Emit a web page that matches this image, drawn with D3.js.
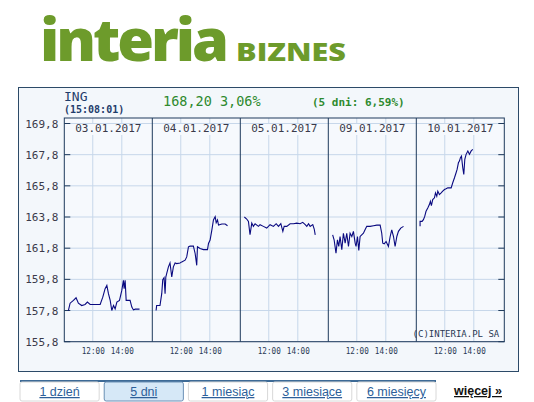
<!DOCTYPE html>
<html><head><meta charset="utf-8">
<script src="https://cdn.jsdelivr.net/npm/d3@7"></script>
<style>body{margin:0;background:#fff}svg{display:block}</style>
</head><body>
<script>
const days = ["03.01.2017","04.01.2017","05.01.2017","09.01.2017","10.01.2017"];
const yTicks = [155.8,157.8,159.8,161.8,163.8,165.8,167.8,169.8];
const hourTicks = [12,14];
const tabs = ["1 dzień","5 dni","1 miesiąc","3 miesiące","6 miesięcy"];
const day1 = [[10.32,157.8],[10.44,158.27],[10.67,158.45],[10.85,158.62],[11.01,158.27],[11.24,158.12],[11.47,158.19],[11.63,158.34],[11.82,158.19],[12.51,158.19],[12.69,158.66],[12.85,159.2],[12.97,159.41],[13.08,158.88],[13.2,158.45],[13.31,157.8],[13.43,158.12],[13.54,157.91],[13.66,158.34],[13.84,158.45],[14.0,159.09],[14.11,159.74],[14.16,159.2],[14.23,159.74],[14.3,158.45],[14.57,158.45],[14.69,158.02],[14.8,157.84],[14.92,157.89],[15.22,157.89]];
const day2 = [[10.3,157.8],[10.34,158.12],[10.57,158.12],[10.69,158.88],[10.76,159.78],[10.85,159.91],[10.92,158.88],[10.97,159.95],[11.03,160.17],[11.15,160.6],[11.26,160.85],[11.38,159.95],[11.49,160.6],[11.61,160.85],[11.72,160.81],[11.95,160.85],[12.07,160.92],[12.3,161.03],[12.41,161.24],[12.53,161.89],[12.64,161.93],[12.87,161.93],[12.99,161.46],[13.1,160.7],[13.15,161.89],[13.33,161.78],[13.56,161.71],[13.84,161.71],[13.91,162.1],[14.02,162.32],[14.14,162.96],[14.25,163.61],[14.37,163.82],[14.44,163.43],[14.53,163.61],[14.6,163.28],[14.83,163.35],[15.06,163.35],[15.22,163.24]];
const day3 = [[10.32,163.8],[10.48,163.67],[10.6,163.52],[10.71,162.66],[10.83,163.41],[10.94,163.2],[11.06,163.37],[11.29,163.2],[11.4,163.31],[11.63,163.2],[11.86,163.09],[12.09,163.31],[12.32,163.2],[12.51,163.37],[12.67,163.2],[12.83,163.37],[12.97,162.88],[13.06,163.2],[13.24,163.2],[13.47,163.37],[13.7,163.37],[13.93,163.41],[14.16,163.37],[14.34,163.46],[14.51,163.31],[14.62,163.2],[14.74,163.37],[14.85,163.2],[15.03,163.31],[15.13,163.03],[15.2,162.66]];
const day4 = [[10.34,162.66],[10.44,162.34],[10.57,161.48],[10.67,162.34],[10.76,161.91],[10.85,162.55],[10.97,161.7],[11.08,162.76],[11.2,162.12],[11.31,162.76],[11.43,161.91],[11.54,162.76],[11.66,162.55],[11.77,162.88],[11.89,162.12],[11.95,161.91],[12.05,162.55],[12.14,161.65],[12.23,162.55],[12.34,162.66],[12.46,162.76],[12.57,162.98],[12.69,163.2],[12.92,163.2],[13.15,163.24],[13.38,163.28],[13.61,163.28],[13.72,162.76],[13.79,162.12],[13.89,162.08],[14.02,162.23],[14.18,161.91],[14.3,162.55],[14.41,162.98],[14.53,162.55],[14.64,161.91],[14.76,162.55],[14.87,162.88],[15.03,163.09],[15.22,163.2]];
const day5 = [[10.3,163.2],[10.3,163.52],[10.44,163.52],[10.53,163.63],[10.62,163.84],[10.71,164.17],[10.83,164.38],[10.94,164.6],[11.01,164.81],[11.08,164.53],[11.17,164.92],[11.29,165.03],[11.36,165.35],[11.45,165.13],[11.52,165.46],[11.63,165.24],[11.75,165.35],[11.86,165.46],[11.98,165.56],[12.09,165.61],[12.21,165.67],[12.32,165.67],[12.44,165.67],[12.55,166.0],[12.67,166.32],[12.78,166.64],[12.85,166.85],[12.94,167.28],[13.01,167.39],[13.08,167.61],[13.15,167.71],[13.24,166.96],[13.31,166.53],[13.38,167.5],[13.47,167.82],[13.59,168.04],[13.7,167.82],[13.82,168.04],[13.93,168.14]];
const series = [day1,day2,day3,day4,day5];

const W=534,H=402;
const svg=d3.select("body").append("svg").attr("width",W).attr("height",H);
const mono="'DejaVu Sans Mono', 'Liberation Mono', monospace";

// logo
svg.append("text").attr("x",40).attr("y",61).attr("font-family","'Open Sans',Lato,sans-serif")
  .attr("font-weight",800).attr("font-size",58).attr("fill","#6d9b2b").attr("letter-spacing",-3)
  .attr("textLength",186).attr("lengthAdjust","spacingAndGlyphs").text("interia");
svg.append("text").attr("x",236).attr("y",61).attr("font-family","'Open Sans',Lato,sans-serif")
  .attr("font-weight",800).attr("font-size",25).attr("fill","#6d9b2b")
  .attr("textLength",110).attr("lengthAdjust","spacingAndGlyphs").text("BIZNES");

// box
svg.append("rect").attr("x",18.5).attr("y",87.5).attr("width",500).attr("height",284)
  .attr("fill","#f3f7fb").attr("stroke","#2c4a68");

const x0=64.3, pw=88, yTop=123.5, yBot=341.7;
const y=d3.scaleLinear().domain([155.8,169.8]).range([yBot,yTop]);
const xDay=d3.scaleBand().domain(days).range([x0,x0+pw*5]);
const plotTop=118;

svg.append("rect").attr("x",x0).attr("y",plotTop).attr("width",pw*5).attr("height",yBot-plotTop).attr("fill","#f6f9fd");

svg.append("g").selectAll("line").data(yTicks).join("line")
  .attr("x1",x0).attr("x2",x0+pw*5).attr("y1",d=>y(d)).attr("y2",d=>y(d))
  .attr("stroke","#c7d7ea").attr("stroke-width",1);
const yAxis=d3.axisLeft(y).tickValues(yTicks).tickSize(0).tickPadding(8).tickFormat(d=>d.toFixed(1).replace(".",","));
const ga=svg.append("g").attr("transform",`translate(${x0},0)`).call(yAxis);
ga.select(".domain").remove();
ga.selectAll("text").attr("font-family",mono).attr("font-size",11).attr("fill","#3a3a4a").attr("x",-6);
svg.append("g").selectAll("line").data(yTicks).join("line")
  .attr("x1",x0).attr("x2",x0+6).attr("y1",d=>y(d)).attr("y2",d=>y(d)).attr("stroke","#1f3a5c");
svg.append("g").selectAll("line").data(yTicks).join("line")
  .attr("x1",x0+pw*5-6).attr("x2",x0+pw*5).attr("y1",d=>y(d)).attr("y2",d=>y(d)).attr("stroke","#1f3a5c");

const line=d3.line();
days.forEach((d,i)=>{
  const px=xDay(d);
  const xt=d3.scaleLinear().domain([10.04,16.1]).range([px,px+pw]);
  const g=svg.append("g");
  g.selectAll("line.v").data(hourTicks).join("line")
    .attr("x1",h=>xt(h)).attr("x2",h=>xt(h)).attr("y1",plotTop).attr("y2",yBot)
    .attr("stroke","#c7d7ea");
  const ax=d3.axisBottom(xt).tickValues(hourTicks).tickSize(0).tickPadding(6).tickFormat(h=>h+":00");
  const gx=g.append("g").attr("transform",`translate(0,${yBot})`).call(ax);
  gx.select(".domain").remove();
  gx.selectAll("text").attr("font-family",mono).attr("font-size",8.5).attr("fill","#2a3a55")
    .attr("textLength",23).attr("lengthAdjust","spacingAndGlyphs");
  g.append("rect").attr("x",px+14).attr("y",plotTop+6).attr("width",pw-28).attr("height",11).attr("fill","#f6f9fd");
  g.append("text").attr("x",px+pw/2).attr("y",plotTop+14).attr("text-anchor","middle")
    .attr("font-family",mono).attr("font-size",11).attr("fill","#3a3a4a").text(d);
  g.append("path").attr("d",line(series[i].map(p=>[xt(p[0]),y(p[1])])))
    .attr("fill","none").attr("stroke","#0a0a80").attr("stroke-width",1.1);
  if(i>0) g.append("line").attr("x1",px).attr("x2",px).attr("y1",plotTop).attr("y2",yBot).attr("stroke","#1f3a5c");
});
svg.append("rect").attr("x",x0).attr("y",plotTop).attr("width",pw*5).attr("height",yBot-plotTop)
  .attr("fill","none").attr("stroke","#1f3a5c");

svg.append("text").attr("x",x0+pw*5-5).attr("y",yBot-5).attr("text-anchor","end")
  .attr("font-family",mono).attr("font-size",9).attr("fill","#2a3a55").text("(C)INTERIA.PL SA");

svg.append("text").attr("x",64).attr("y",101).attr("font-family",mono).attr("font-size",13)
  .attr("fill","#1f3d6b").text("ING");
svg.append("text").attr("x",64).attr("y",113).attr("font-family",mono).attr("font-size",10).attr("font-weight","bold")
  .attr("fill","#1f3d6b").text("(15:08:01)");
svg.append("text").attr("x",163).attr("y",106).attr("font-family",mono).attr("font-size",13.5)
  .attr("fill","#2e8a2e").text("168,20 3,06%");
svg.append("text").attr("x",312).attr("y",106).attr("font-family",mono).attr("font-size",11).attr("font-weight","bold")
  .attr("fill","#2e8a2e").text("(5 dni: 6,59%)");

svg.append("rect").attr("x",18).attr("y",372).attr("width",501).attr("height",30).attr("fill","#fff");
svg.append("line").attr("x1",20).attr("x2",436).attr("y1",381).attr("y2",381).attr("stroke","#3d6a96").attr("stroke-width",2);
const tx=d3.scaleBand().domain(tabs).range([20,436]).paddingInner(0.06);
const tg=svg.append("g").selectAll("g").data(tabs).join("g");
tg.append("rect").attr("x",d=>tx(d)).attr("y",382).attr("width",tx.bandwidth()).attr("height",19).attr("rx",2)
  .attr("fill",(d,i)=>i===1?"#d6e8f7":"#fff").attr("stroke",(d,i)=>i===1?"#6a8fb5":"#d8d8d8");
tg.append("text").attr("x",d=>tx(d)+tx.bandwidth()/2).attr("y",396).attr("text-anchor","middle")
  .attr("font-family","Arial, 'Liberation Sans', sans-serif").attr("font-size",12.5).attr("fill","#2d5f9a")
  .attr("text-decoration","underline").text(d=>d);
svg.append("text").attr("x",478).attr("y",395).attr("text-anchor","middle")
  .attr("font-family","Arial, 'Liberation Sans', sans-serif").attr("font-size",12.5).attr("font-weight","bold")
  .attr("fill","#111").attr("text-decoration","underline").text("więcej »");
</script>
</body></html>
